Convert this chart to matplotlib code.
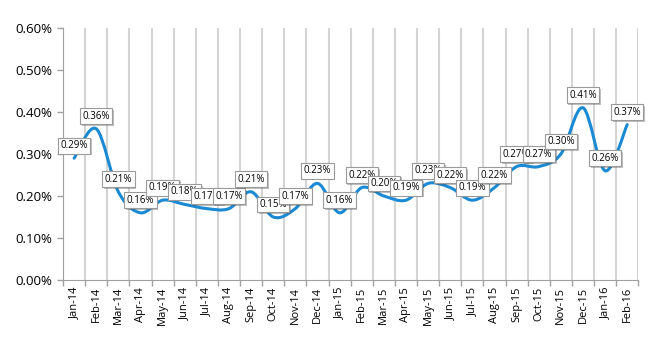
import matplotlib.pyplot as plt
import matplotlib.patheffects as pe
from matplotlib.path import Path
from matplotlib.patches import PathPatch
import numpy as np

meses = ["Jan-14", "Feb-14", "Mar-14", "Apr-14", "May-14", "Jun-14", "Jul-14",
         "Aug-14", "Sep-14", "Oct-14", "Nov-14", "Dec-14", "Jan-15", "Feb-15",
         "Mar-15", "Apr-15", "May-15", "Jun-15", "Jul-15", "Aug-15", "Sep-15",
         "Oct-15", "Nov-15", "Dec-15", "Jan-16", "Feb-16"]
taxa = [0.29, 0.36, 0.21, 0.16, 0.19, 0.18, 0.17, 0.17, 0.21, 0.15, 0.17, 0.23,
        0.16, 0.22, 0.20, 0.19, 0.23, 0.22, 0.19, 0.22, 0.27, 0.27, 0.30, 0.41,
        0.26, 0.37]
yticks = [0.0, 0.1, 0.2, 0.3, 0.4, 0.5, 0.6]

plt.rcParams['font.family'] = ['Open Sans', 'DejaVu Sans']

fig = plt.figure(figsize=(6.5, 3.5), dpi=100)
ax = fig.add_axes([0.097, 0.2, 0.885, 0.72])

x = np.arange(len(taxa))
y = np.array(taxa)

# linha suavizada (bezier como no Excel)
verts = [(x[0], y[0])]
codes = [Path.MOVETO]
n = len(x)
for i in range(n - 1):
    p0 = np.array([x[max(i - 1, 0)], y[max(i - 1, 0)]])
    p1 = np.array([x[i], y[i]])
    p2 = np.array([x[i + 1], y[i + 1]])
    p3 = np.array([x[min(i + 2, n - 1)], y[min(i + 2, n - 1)]])
    c1 = p1 + (p2 - p0) / 6
    c2 = p2 - (p3 - p1) / 6
    verts += [tuple(c1), tuple(c2), tuple(p2)]
    codes += [Path.CURVE4] * 3
ax.add_patch(PathPatch(Path(verts, codes), fill=False, edgecolor="#1a8ad4",
                       lw=2.2, zorder=3, capstyle='round'))

# rótulos
for i, v in enumerate(taxa):
    t = ax.annotate(f"{v:.2f}%", (x[i], v), xytext=(0, 9), textcoords="offset points",
                    ha="center", va="center", fontsize=7, zorder=10 + i,
                    bbox=dict(boxstyle="square,pad=0.25", fc="white", ec="#9a9a9a", lw=0.8))
    t.get_bbox_patch().set_path_effects([pe.SimplePatchShadow(offset=(1.2, -1.2), alpha=0.35),
                                         pe.Normal()])

ax.set_xlim(-0.5, len(taxa) - 0.5)
ax.set_ylim(0, 0.6)
ax.set_yticks(yticks)
ax.set_yticklabels([f"{t:.2f}%" for t in yticks], fontsize=9.5)
ax.set_xticks(x)
ax.set_xticklabels(meses, rotation=90, fontsize=8)
ax.tick_params(axis='x', length=0, pad=5)
ax.set_xticks(np.arange(-0.5, len(taxa)), minor=True)
ax.tick_params(axis='x', which='minor', length=4, color="#a0a0a0", width=1)
ax.tick_params(axis='y', length=4, color="#a0a0a0", width=1)
ax.grid(True, axis='x', which='minor', color="#d4d4d4", lw=1.5)
for s in ["top", "right"]:
    ax.spines[s].set_visible(False)
for s in ["left", "bottom"]:
    ax.spines[s].set_color("#a0a0a0")
ax.set_axisbelow(True)

plt.savefig("out.png", dpi=100)
